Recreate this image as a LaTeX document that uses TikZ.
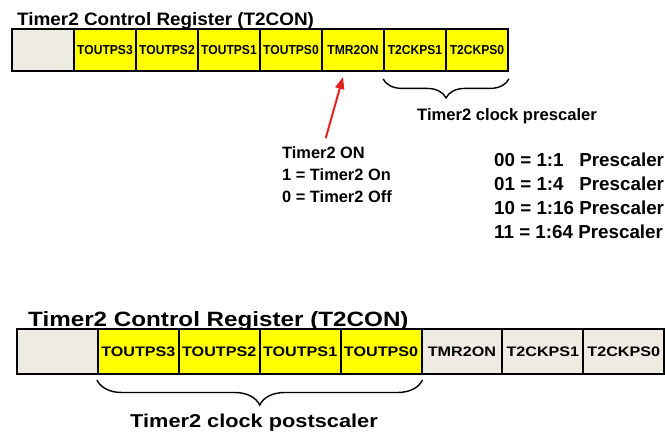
\documentclass[tikz,border=0pt]{standalone}
\usepackage{fontspec}
\setmainfont{Liberation Sans}
% condensed / plain / widened cuts of the same sans face
\newfontfamily\sansN[FakeStretch=0.93]{Liberation Sans}
\newfontfamily\sansT[FakeStretch=1.05]{Liberation Sans}
\newfontfamily\sansW[FakeStretch=1.17]{Liberation Sans}
\usetikzlibrary{arrows.meta,decorations.pathreplacing,calc}
\definecolor{regyellow}{RGB}{255,255,0}
\definecolor{reggrey}{RGB}{238,235,226}
\definecolor{arrowred}{RGB}{226,35,30}
% a short setting padded to the width of the longest one
\newcommand{\presetline}[2]{\setbox0\hbox{10 = 1:16 Prescaler}\hbox to \wd0{#1 = #2\hfill Prescaler}}

\begin{document}
\begin{tikzpicture}[x=1pt,y=-1pt,
  cellA/.style={draw, line width=1.8pt, fill=regyellow, minimum width=62pt,
    minimum height=42pt, inner sep=0pt,
    font=\sansN\bfseries\fontsize{13}{13}\selectfont},
  cellB/.style={draw, line width=2pt, fill=regyellow, minimum width=80.9pt,
    minimum height=45pt, inner sep=0pt,
    font=\sansW\bfseries\fontsize{13.8}{13.8}\selectfont},
  blank/.style={fill=reggrey},
  txt/.style={inner sep=0pt, anchor=base west},
  curly/.style={decorate, decoration={brace, amplitude=#1}, line width=1.4pt},
  redarrow/.style={draw=arrowred, line width=2pt,
    -{Triangle[length=12pt,width=9pt]}},
]
\useasboundingbox (0,0) rectangle (665,432);

% ---------- upper register ----------
\node[txt, font=\sansT\bfseries\fontsize{18}{18}\selectfont] (titleA) at (17,25)
  {Timer2 Control Register (T2CON)};
\node[cellA, blank] (a0) at (43,50) {};
\node[cellA] (a1) at (105,50) {TOUTPS3};
\node[cellA] (a2) at (167,50) {TOUTPS2};
\node[cellA] (a3) at (229,50) {TOUTPS1};
\node[cellA] (a4) at (291,50) {TOUTPS0};
\node[cellA] (a5) at (353,50) {TMR2ON};
\node[cellA] (a6) at (415,50) {T2CKPS1};
\node[cellA] (a7) at (477,50) {T2CKPS0};

% prescaler brace and its caption
\draw[curly=19] ($(a7.south east)+(0,7)$) -- ($(a6.south west)+(0,7)$);
\node[txt, font=\bfseries\fontsize{16.6}{16.6}\selectfont] (pre) at (417,120)
  {Timer2 clock prescaler};

% timer on/off note with its arrow
\node[txt, font=\bfseries\fontsize{16.4}{16.4}\selectfont] (on1) at (282,158) {Timer2 ON};
\node[txt, font=\bfseries\fontsize{16.4}{16.4}\selectfont] (on2) at (282,180) {1 = Timer2 On};
\node[txt, font=\bfseries\fontsize{16.4}{16.4}\selectfont] (on3) at (282,202) {0 = Timer2 Off};
\coordinate (ontip) at (343,77);
\draw[redarrow, shorten <=8pt] (on1.north) -- (ontip);

% prescaler settings
\begin{scope}[every node/.style={txt, font=\bfseries\fontsize{18.8}{18.8}\selectfont}]
\node (ps1) at (494,166) {\presetline{00}{1:1}};
\node (ps2) at (494,190) {\presetline{01}{1:4}};
\node (ps3) at (494,214) {10 = 1:16 Prescaler};
\node (ps4) at (494,238) {11 = 1:64 Prescaler};
\end{scope}

% ---------- lower register ----------
\node[txt, font=\sansW\bfseries\fontsize{20.7}{20.7}\selectfont] (titleB) at (28,326)
  {Timer2 Control Register (T2CON)};
\node[cellB, blank] (b0) at (57.45,351.5) {};
\node[cellB] (b1) at (138.35,351.5) {TOUTPS3};
\node[cellB] (b2) at (219.25,351.5) {TOUTPS2};
\node[cellB] (b3) at (300.15,351.5) {TOUTPS1};
\node[cellB] (b4) at (381.05,351.5) {TOUTPS0};
\node[cellB, blank] (b5) at (461.95,351.5) {TMR2ON};
\node[cellB, blank] (b6) at (542.85,351.5) {T2CKPS1};
\node[cellB, blank] (b7) at (623.75,351.5) {T2CKPS0};

% postscaler brace and its caption
\draw[curly=25] ($(b4.south east)+(0,5)$) -- ($(b1.south west)+(0,5)$);
\node[txt, font=\sansW\bfseries\fontsize{18.6}{18.6}\selectfont] (post) at (130,427)
  {Timer2 clock postscaler};
\end{tikzpicture}
\end{document}
